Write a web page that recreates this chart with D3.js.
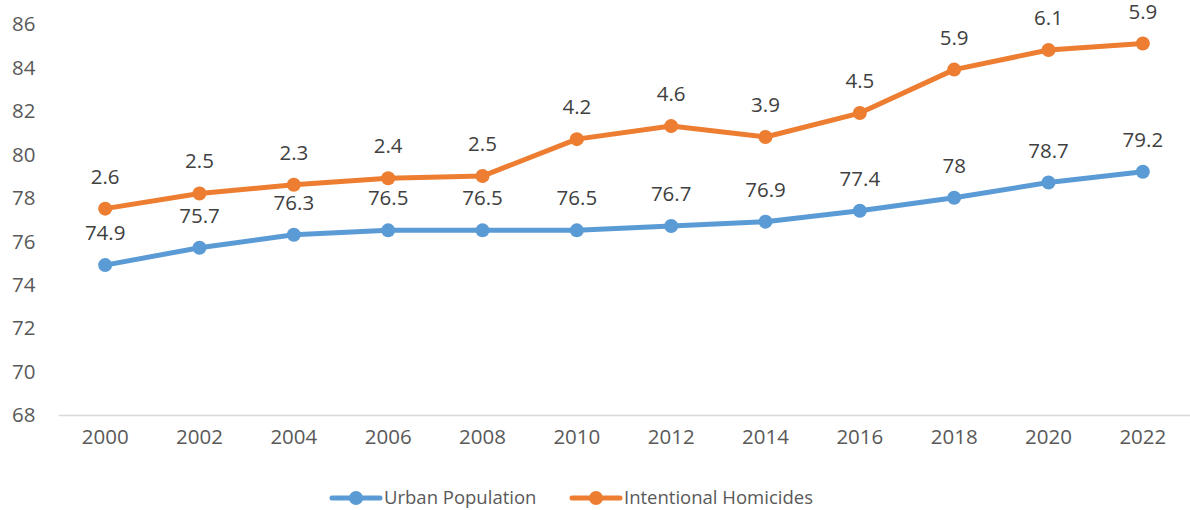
<!DOCTYPE html>
<html>
<head>
<meta charset="utf-8">
<script src="https://cdn.jsdelivr.net/npm/d3@7"></script>
<style>
  body { margin: 0; background: #fff; }
  svg { display: block; font-family: "Open Sans", sans-serif; }
</style>
</head>
<body>
<svg id="chart" width="1190" height="510"></svg>
<script>
// stacked line chart: homicides drawn on top of urban population
const years = ["2000", "2002", "2004", "2006", "2008", "2010", "2012", "2014", "2016", "2018", "2020", "2022"];
const urbanPopulation = [74.9, 75.7, 76.3, 76.5, 76.5, 76.5, 76.7, 76.9, 77.4, 78, 78.7, 79.2];
const intentionalHomicides = [2.6, 2.5, 2.3, 2.4, 2.5, 4.2, 4.6, 3.9, 4.5, 5.9, 6.1, 5.9];
const seriesNames = ["Urban Population", "Intentional Homicides"];
const seriesColors = ["#5B9BD5", "#ED7D31"];
const yTicks = [68, 70, 72, 74, 76, 78, 80, 82, 84, 86];

const svg = d3.select("#chart");
const margin = { left: 58, right: 0, top: 24, bottom: 95 };
const width = 1190, height = 510;

const rows = years.map((y, i) => ({
  year: y,
  urban: urbanPopulation[i],
  homicides: intentionalHomicides[i]
}));
const stacked = d3.stack().keys(["urban", "homicides"])(rows);

const x = d3.scaleBand().domain(years).range([margin.left, width - margin.right]);
const y = d3.scaleLinear().domain([68, 86]).range([height - margin.bottom, margin.top]);
const cx = d => x(d) + x.bandwidth() / 2;

// y tick labels (no axis line)
svg.append("g")
  .selectAll("text")
  .data(yTicks)
  .join("text")
  .attr("x", 12)
  .attr("y", d => y(d))
  .attr("dy", "0.36em")
  .attr("fill", "#595959")
  .attr("font-size", 20.5)
  .text(d => d);

// x axis
const xAxis = svg.append("g")
  .attr("transform", `translate(0,${y(68)})`)
  .call(d3.axisBottom(x).tickSize(0).tickPadding(14));
xAxis.select(".domain").attr("stroke", "#d9d9d9").attr("stroke-width", 1.5);
xAxis.selectAll("text").attr("fill", "#595959").attr("font-size", 20.5)
  .attr("font-family", "Open Sans, sans-serif");

const line = d3.line()
  .x(d => cx(d.data.year))
  .y(d => y(d[1]));

const labelValues = [urbanPopulation, intentionalHomicides];

stacked.forEach((s, si) => {
  const g = svg.append("g");
  g.append("path")
    .datum(s)
    .attr("fill", "none")
    .attr("stroke", seriesColors[si])
    .attr("stroke-width", 5)
    .attr("stroke-linejoin", "round")
    .attr("d", line);
  g.selectAll("circle")
    .data(s)
    .join("circle")
    .attr("cx", d => cx(d.data.year))
    .attr("cy", d => y(d[1]))
    .attr("r", 7)
    .attr("fill", seriesColors[si]);
  g.selectAll("text")
    .data(s)
    .join("text")
    .attr("x", d => cx(d.data.year))
    .attr("y", d => y(d[1]) - 25)
    .attr("text-anchor", "middle")
    .attr("fill", "#404040")
    .attr("font-size", 20.5)
    .text((d, i) => labelValues[si][i]);
});

// legend
const legendX = [332, 572];
const legend = svg.append("g").attr("transform", "translate(0,498)");
seriesNames.forEach((name, i) => {
  const lg = legend.append("g").attr("transform", `translate(${legendX[i]},0)`);
  lg.append("line").attr("x1", 0).attr("x2", 48)
    .attr("stroke", seriesColors[i]).attr("stroke-width", 5).attr("stroke-linecap", "round");
  lg.append("circle").attr("cx", 24).attr("r", 7).attr("fill", seriesColors[i]);
  lg.append("text").attr("x", 52).attr("dy", "0.35em")
    .attr("fill", "#595959").attr("font-size", 18.5).text(name);
});
</script>
</body>
</html>
